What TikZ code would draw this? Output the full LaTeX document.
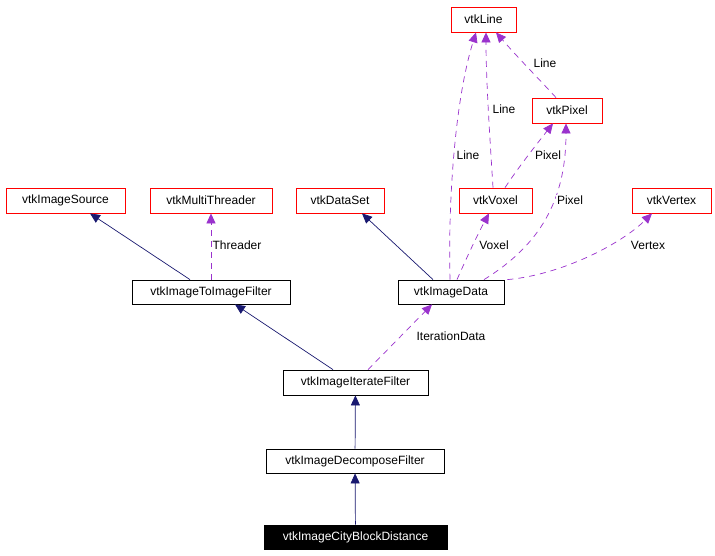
\documentclass[tikz,border=0pt]{standalone}
\usepackage{fontspec}
\setmainfont{Liberation Sans}
\usetikzlibrary{arrows.meta}
\begin{document}
\begin{tikzpicture}[x=1pt,y=-1pt,
  box/.style={draw=#1,rectangle,line width=0.8pt,inner sep=0pt,font=\fontsize{12}{14}\selectfont,anchor=center},
  inh/.style={draw={rgb,255:red,25;green,25;blue,112},line width=0.7pt,-{Triangle[length=10pt,width=9pt]}},
  use/.style={draw={rgb,255:red,154;green,50;blue,205},dash pattern=on 6pt off 5pt,line width=0.7pt,-{Triangle[length=10pt,width=9pt]}},
  lab/.style={font=\fontsize{12}{14}\selectfont,fill=white,inner sep=1pt}]
\useasboundingbox[fill=white] (0,0) rectangle (715,555);
\node[box=red,minimum width=65pt,minimum height=25pt] (line) at (483.5,19.5) {vtkLine};
\node[box=red,minimum width=70pt,minimum height=25pt] (pixel) at (567,110.5) {vtkPixel};
\node[box=red,minimum width=73pt,minimum height=25pt] (voxel) at (495.5,200.5) {vtkVoxel};
\node[box=red,minimum width=79pt,minimum height=25pt] (vertex) at (671.5,200.5) {vtkVertex};
\node[box=red,minimum width=88pt,minimum height=25pt] (dataset) at (340,200.5) {vtkDataSet};
\node[box=red,minimum width=122pt,minimum height=25pt] (mt) at (211,200.5) {vtkMultiThreader};
\node[box=red,minimum width=119pt,minimum height=25pt] (src) at (65.5,200.5) {vtkImageSource};
\node[box=black,minimum width=158pt,minimum height=24pt] (i2i) at (211,292) {vtkImageToImageFilter};
\node[box=black,minimum width=106pt,minimum height=24pt] (data) at (451,292) {vtkImageData};
\node[box=black,minimum width=145pt,minimum height=25pt] (iter) at (355.5,382.5) {vtkImageIterateFilter};
\node[box=black,minimum width=178pt,minimum height=24pt] (dec) at (355,461) {vtkImageDecomposeFilter};
\node[box=black,fill=black,text=white,minimum width=183pt,minimum height=24pt] (cbd) at (355.5,537) {vtkImageCityBlockDistance};

\draw[inh] (i2i.north -| 190,0) -- (src.south -| 90,0);
\draw[inh] (data.north -| 433,0) -- (dataset.south -| 362,0);
\draw[inh] (iter.north -| 333,0) -- (i2i.south -| 235,0);
\draw[inh] (dec) -- (iter);
\draw[inh] (cbd) -- (dec);

\draw[use] (i2i) -- (mt);
\node[lab] at (237,245) {Threader};
\draw[use] (iter.north -| 368,0) -- (data.south -| 432,0);
\node[lab] at (451,336) {IterationData};
\draw[use] (data.north -| 450,0) .. controls (448,200) and (455,100) .. (line.south -| 476,0);
\node[lab] at (468,155) {Line};
\draw[use] (voxel.north -| 493,0) .. controls (490,140) and (486,80) .. (line.south -| 486,0);
\node[lab] at (504,109) {Line};
\draw[use] (pixel.north -| 556,0) .. controls (540,80) and (520,60) .. (line.south -| 496,0);
\node[lab] at (545,63) {Line};
\draw[use] (voxel.north -| 505,0) .. controls (520,165) and (540,140) .. (pixel.south -| 553,0);
\node[lab] at (548,155) {Pixel};
\draw[use] (data.north -| 484,0) .. controls (540,245) and (566,200) .. (pixel.south -| 566,0);
\node[lab] at (570,200) {Pixel};
\draw[use] (data.north -| 457,0) .. controls (470,250) and (480,230) .. (voxel.south -| 489,0);
\node[lab] at (494,245) {Voxel};
\draw[use] (data.north east) ++(3,0) .. controls (560,275) and (620,245) .. (vertex.south -| 652,0);
\node[lab] at (648,245) {Vertex};
\end{tikzpicture}
\end{document}
